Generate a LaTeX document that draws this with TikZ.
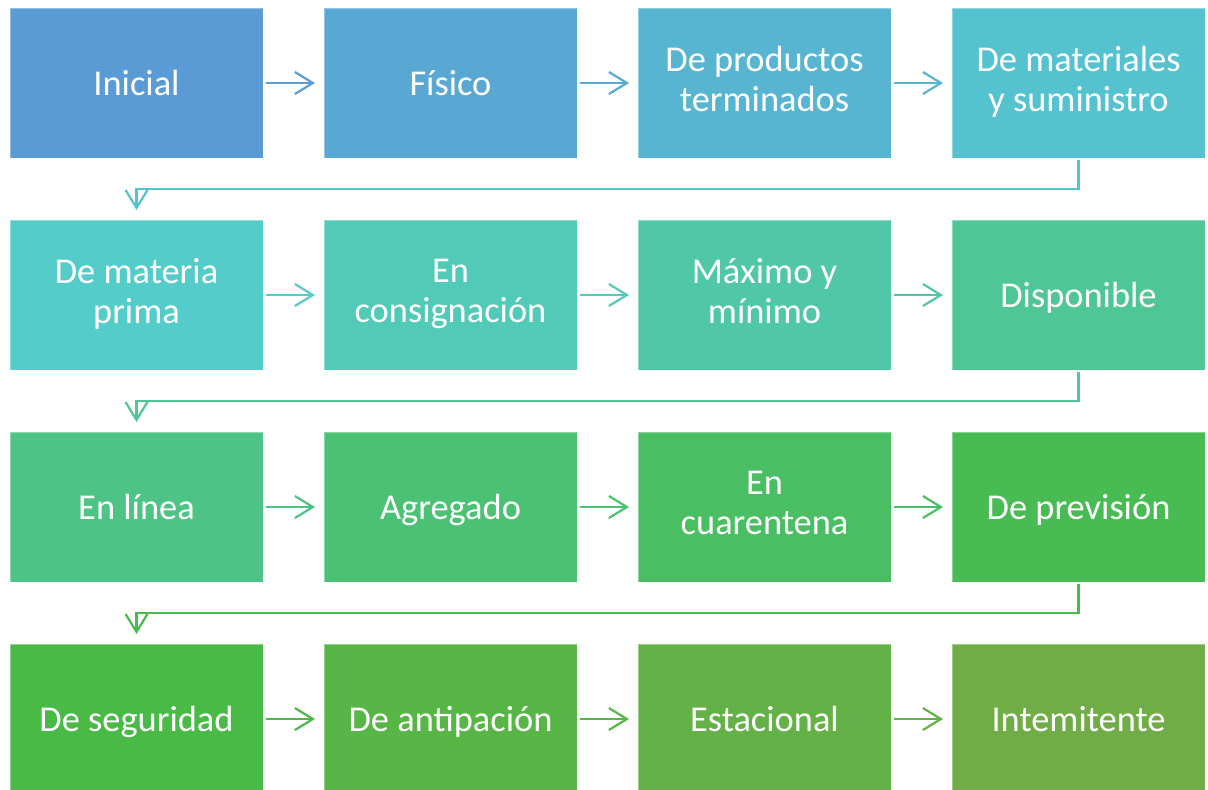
\documentclass[tikz,border=0pt]{standalone}
\usepackage{fontspec}
\setmainfont{Carlito}
\usetikzlibrary{positioning,arrows.meta}

\definecolor{tono1}{RGB}{91,155,213}
\definecolor{tono2}{RGB}{89,168,211}
\definecolor{tono3}{RGB}{87,181,209}
\definecolor{tono4}{RGB}{85,194,207}
\definecolor{tono5}{RGB}{84,205,202}
\definecolor{tono6}{RGB}{82,202,184}
\definecolor{tono7}{RGB}{80,200,167}
\definecolor{tono8}{RGB}{78,198,150}
\definecolor{tono9}{RGB}{77,195,133}
\definecolor{tono10}{RGB}{75,193,116}
\definecolor{tono11}{RGB}{73,190,99}
\definecolor{tono12}{RGB}{72,188,83}
\definecolor{tono13}{RGB}{74,186,71}
\definecolor{tono14}{RGB}{87,182,70}
\definecolor{tono15}{RGB}{100,177,71}
\definecolor{tono16}{RGB}{112,173,71}

\newcommand\puntal{\rule[-3.75pt]{0pt}{20pt}}

\tikzset{
  caja/.style={minimum width=126.5pt, minimum height=75pt, inner sep=0pt,
    outer sep=0pt, text=white, align=center, draw=white, draw opacity=.35,
    line width=.5pt, font=\fontsize{18.2}{20}\selectfont,
    execute at begin node=\puntal, execute at end node=\puntal},
  flecha/.style={-{Straight Barb[length=9pt,width=11pt]}, line width=1.1pt,
    shorten <=1.5pt, shorten >=4.5pt},
  vuelta/.style={-{Straight Barb[length=9pt,width=11pt]}, line width=1.1pt,
    shorten <=1pt, shorten >=5pt}
}

\begin{document}
\begin{tikzpicture}
      \useasboundingbox (0,0) rectangle (604pt,-394.5pt);

      % primera fila
      \node[caja, fill=tono1] at (68.25pt,-41.5pt) (inicial) {Inicial};
      \node[caja, fill=tono2, right=30.5pt of inicial] (fisico) {Físico};
      \node[caja, fill=tono3, right=30.5pt of fisico] (terminados) {De productos\\terminados};
      \node[caja, fill=tono4, right=30.5pt of terminados] (suministro) {De materiales\\y suministro};

      \draw[flecha, tono1] (inicial)--(fisico);
      \draw[flecha, tono2] (fisico)--(terminados);
      \draw[flecha, tono3] (terminados)--(suministro);

      % segunda fila
      \node[caja, fill=tono5, below=31pt of inicial] (materia) {De materia\\prima};
      \node[caja, fill=tono6, right=30.5pt of materia] (consigna) {En\\consignación};
      \node[caja, fill=tono7, right=30.5pt of consigna] (maxmin) {Máximo y\\mínimo};
      \node[caja, fill=tono8, right=30.5pt of maxmin] (disponible) {Disponible};

      \draw[vuelta, tono4] (suministro.south)--++(0,-15.5pt) -| (materia.north);
      \draw[flecha, tono5] (materia)--(consigna);
      \draw[flecha, tono6] (consigna)--(maxmin);
      \draw[flecha, tono7] (maxmin)--(disponible);

      % tercera fila
      \node[caja, fill=tono9, below=31pt of materia] (enlinea) {En línea};
      \node[caja, fill=tono10, right=30.5pt of enlinea] (agregado) {Agregado};
      \node[caja, fill=tono11, right=30.5pt of agregado] (cuarentena) {En\\cuarentena};
      \node[caja, fill=tono12, right=30.5pt of cuarentena] (prevision) {De previsión};

      \draw[vuelta, tono8] (disponible.south)--++(0,-15.5pt) -| (enlinea.north);
      \draw[flecha, tono9] (enlinea)--(agregado);
      \draw[flecha, tono10] (agregado)--(cuarentena);
      \draw[flecha, tono11] (cuarentena)--(prevision);

      % cuarta fila
      \node[caja, fill=tono13, below=31pt of enlinea] (seguridad) {De seguridad};
      \node[caja, fill=tono14, right=30.5pt of seguridad] (antipacion) {De antipación};
      \node[caja, fill=tono15, right=30.5pt of antipacion] (estacional) {Estacional};
      \node[caja, fill=tono16, right=30.5pt of estacional] (intemitente) {Intemitente};

      \draw[vuelta, tono12] (prevision.south)--++(0,-15.5pt) -| (seguridad.north);
      \draw[flecha, tono13] (seguridad)--(antipacion);
      \draw[flecha, tono14] (antipacion)--(estacional);
      \draw[flecha, tono15] (estacional)--(intemitente);
    \end{tikzpicture}
\end{document}
